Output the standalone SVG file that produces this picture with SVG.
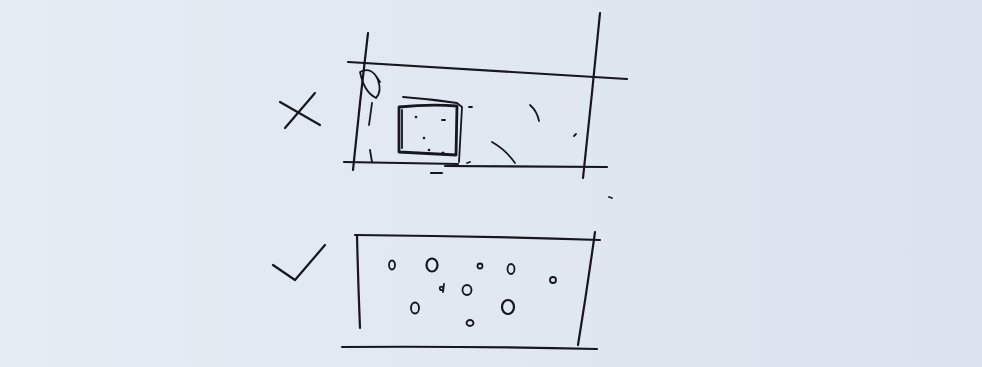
<svg xmlns="http://www.w3.org/2000/svg" width="982" height="367" viewBox="0 0 982 367">
<defs>
<linearGradient id="bg" x1="0" y1="0" x2="1" y2="0">
<stop offset="0" stop-color="#e6ecf4"/>
<stop offset="1" stop-color="#dae3ee"/>
</linearGradient>
<style>
.p{fill:none;stroke:#16161e;stroke-width:2.2;stroke-linecap:round;stroke-linejoin:round}
.t{stroke-width:1.8}
.d{fill:#16161e}
</style>
</defs>
<rect width="982" height="367" fill="url(#bg)"/>
<g id="wrong">
<path class="p" d="M280 102 L320 125 M315 93 L285 128"/>
<path class="p" d="M368 33 Q360 100 353 170"/>
<path class="p" d="M348 62 Q480 70 627 79"/>
<path class="p" d="M600 13 Q592 95 583 178"/>
<path class="p" d="M344 162 L458 164 M445 166 L607 167"/>
<path class="p t" d="M360 72 Q372 66 378 80 Q382 92 376 98 Q364 92 360 72 Z M376 76 L380 82"/>
<path class="p t" d="M372 103 L369 125 M370 150 L372 162"/>
<path class="p" style="stroke-width:2.8" d="M399 107 Q430 104 457 106 L456 155 L399 152 Z"/>
<path class="p t" d="M403 97 Q430 99 457 103 L462 107 L459 162 M402 110 L402 148"/>
<circle class="d" cx="416" cy="117" r="1.3"/>
<path class="p t" d="M442 120 L445 120"/>
<circle class="d" cx="424" cy="138" r="1.3"/>
<circle class="d" cx="429" cy="150" r="1.3"/>
<circle class="d" cx="443" cy="153" r="1.6"/>
<path class="p" d="M431 173 L442 173"/>
<path class="p t" d="M469 107 L472 107 M467 163 L470 162"/>
<path class="p t" d="M530 105 Q537 111 539 121"/>
<path class="p t" d="M492 142 Q506 150 515 163"/>
<path class="p t" d="M574 136 L576 134"/>
<path class="p t" d="M609 197 L612 198"/>
</g>
<g id="right">
<path class="p" d="M273 265 L295 280 L325 245"/>
<path class="p" d="M357 235 Q358 280 360 328"/>
<path class="p" d="M355 235 Q480 236 600 240"/>
<path class="p" d="M595 232 Q587 290 578 345"/>
<path class="p" d="M342 347 Q470 346 597 349"/>
<ellipse class="p t" cx="392" cy="265" rx="3" ry="4.5"/>
<ellipse class="p" cx="432" cy="265" rx="5.5" ry="6.5"/>
<ellipse class="p t" cx="480" cy="266" rx="2.5" ry="2.5"/>
<ellipse class="p t" cx="511" cy="269" rx="3.5" ry="5"/>
<ellipse class="p t" cx="553" cy="280" rx="3" ry="3"/>
<path class="p t" d="M444 284 L443 292 M443 290 Q439 291 440 287 Q442 286 443 288"/>
<ellipse class="p t" cx="467" cy="290" rx="4.5" ry="5"/>
<ellipse class="p t" cx="415" cy="308" rx="4" ry="5.5"/>
<ellipse class="p" cx="508" cy="307" rx="6" ry="7"/>
<ellipse class="p t" cx="470" cy="323" rx="3.5" ry="3"/>
</g>
</svg>
